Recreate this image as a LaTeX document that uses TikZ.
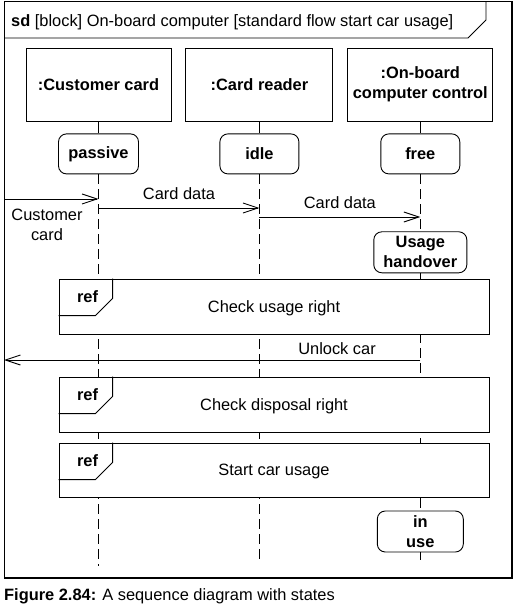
\documentclass[tikz,border=0pt]{standalone}
\usepackage{fontspec}
\setmainfont{Liberation Sans}
\usetikzlibrary{positioning,calc,arrows.meta}

\tikzset{
  headbox/.style={rectangle,draw=black,line width=0.9pt,minimum width=145pt,minimum height=73pt,inner sep=1pt,align=center,font=\fontsize{16.4}{20}\selectfont\bfseries},
  statebox/.style={rectangle,rounded corners=8pt,draw=black,line width=0.9pt,minimum height=40pt,inner sep=1pt,align=center,font=\fontsize{16.4}{20}\selectfont\bfseries},
  refbox/.style={rectangle,draw=black,fill=white,line width=0.9pt,minimum width=430pt,minimum height=55pt,text depth=0pt},
  lifeline/.style={line width=0.9pt,dash pattern=on 10pt off 5pt},
  msg/.style={line width=0.9pt,-{Straight Barb[length=15pt,width=10pt]}},
}

\begin{document}
\begin{tikzpicture}[x=1pt,y=-1pt,every node/.style={font=\fontsize{16.4}{20}\selectfont}]
    \useasboundingbox (0,0) rectangle (526,609);

    % Frame
    \draw[line width=1pt] (4,2) rectangle (512,578);
    \draw[line width=2.2pt] (512,2) -- (512,578) -- (4,578);
    \draw[line width=0.9pt] (4,38) -- (468,38) -- (486,20) -- (486,2);
    \node (title) [anchor=west,inner sep=0pt] at (11,22) {\textbf{sd} [block] On-board computer [standard flow start car usage]};

    % Lifeline heads
    \node (cust) [headbox] at (98.5,84.5) {:Customer card};
    \node (reader) [headbox,minimum width=147pt,right=14pt of cust] {:Card reader};
    \node (onboard) [headbox,right=14pt of reader] {:On-board\\computer control};

    % States
    \node (passive) [statebox,minimum width=80pt,below=12pt of cust] {passive};
    \node (idle) [statebox,minimum width=79pt,below=12pt of reader] {idle};
    \node (free) [statebox,minimum width=79pt,below=12pt of onboard] {free};
    \node (handover) [statebox,minimum width=93pt,minimum height=41pt,below=57pt of free] {Usage\\handover};
    \node (inuse) [statebox,minimum width=86pt,minimum height=41pt] at (onboard |- 0,531.5) {in\\use};

    % Lifelines
    \coordinate (custend) at (cust |- 0,566);
    \coordinate (readerend) at (reader |- 0,560);
    \coordinate (onboardend) at (onboard |- 0,560);
    \draw[line width=0.9pt] (cust.south) -- (passive.north);
    \draw[line width=0.9pt] (reader.south) -- (idle.north);
    \draw[line width=0.9pt] (onboard.south) -- (free.north);
    \draw[lifeline] (passive.south) -- (custend);
    \draw[lifeline] (idle.south) -- (readerend);
    \draw[lifeline] (free.south) -- (handover.north);
    \draw[lifeline] (handover.south) -- (inuse.north);
    \draw[lifeline] (inuse.south) -- (onboardend);

    % Arrows
    \coordinate (cardin) at (4,199);
    \coordinate (custrecv) at (cust |- 0,199);
    \coordinate (custsend) at (cust |- 0,208);
    \coordinate (readerrecv) at (reader |- 0,208);
    \coordinate (readersend) at (reader |- 0,217);
    \coordinate (onboardrecv) at (onboard |- 0,217);
    \coordinate (onboardsend) at (onboard |- 0,360);
    \coordinate (carout) at (4,360);
    \draw[msg] (cardin) -- (custrecv);
    \node (lblcard) [align=center] at (47,225) {Customer\\card};
    \draw[msg] (custsend) -- node (lbldata1) [above=5pt] {Card data} (readerrecv);
    \draw[msg] (readersend) -- node (lbldata2) [above=5pt] {Card data} (onboardrecv);
    \draw[msg] (onboardsend) -- node (lblunlock) [pos=0.2,above=2pt] {Unlock car} (carout);

    % Interaction uses
    \node (refusage) [refbox] at (274,306.5) {Check usage right};
    \node (refdisposal) [refbox] at (274,404.5) {Check disposal right};
    \node (refstart) [refbox,minimum height=54pt] at (274,470) {Start car usage};
    \foreach \r in {refusage,refdisposal,refstart} {
        \draw[line width=0.9pt] ($(\r.north west)+(54,0)$) -- ++(0,20) -- ++(-17,17) -- ($(\r.north west)+(0,37)$);
        \node (\r tag) [font=\fontsize{16.4}{20}\selectfont\bfseries] at ($(\r.north west)+(29,18)$) {ref};
    }

    \node (caption) [anchor=west,inner sep=0pt] at (4,596) {\textbf{Figure 2.84:} A sequence diagram with states};
\end{tikzpicture}
\end{document}
